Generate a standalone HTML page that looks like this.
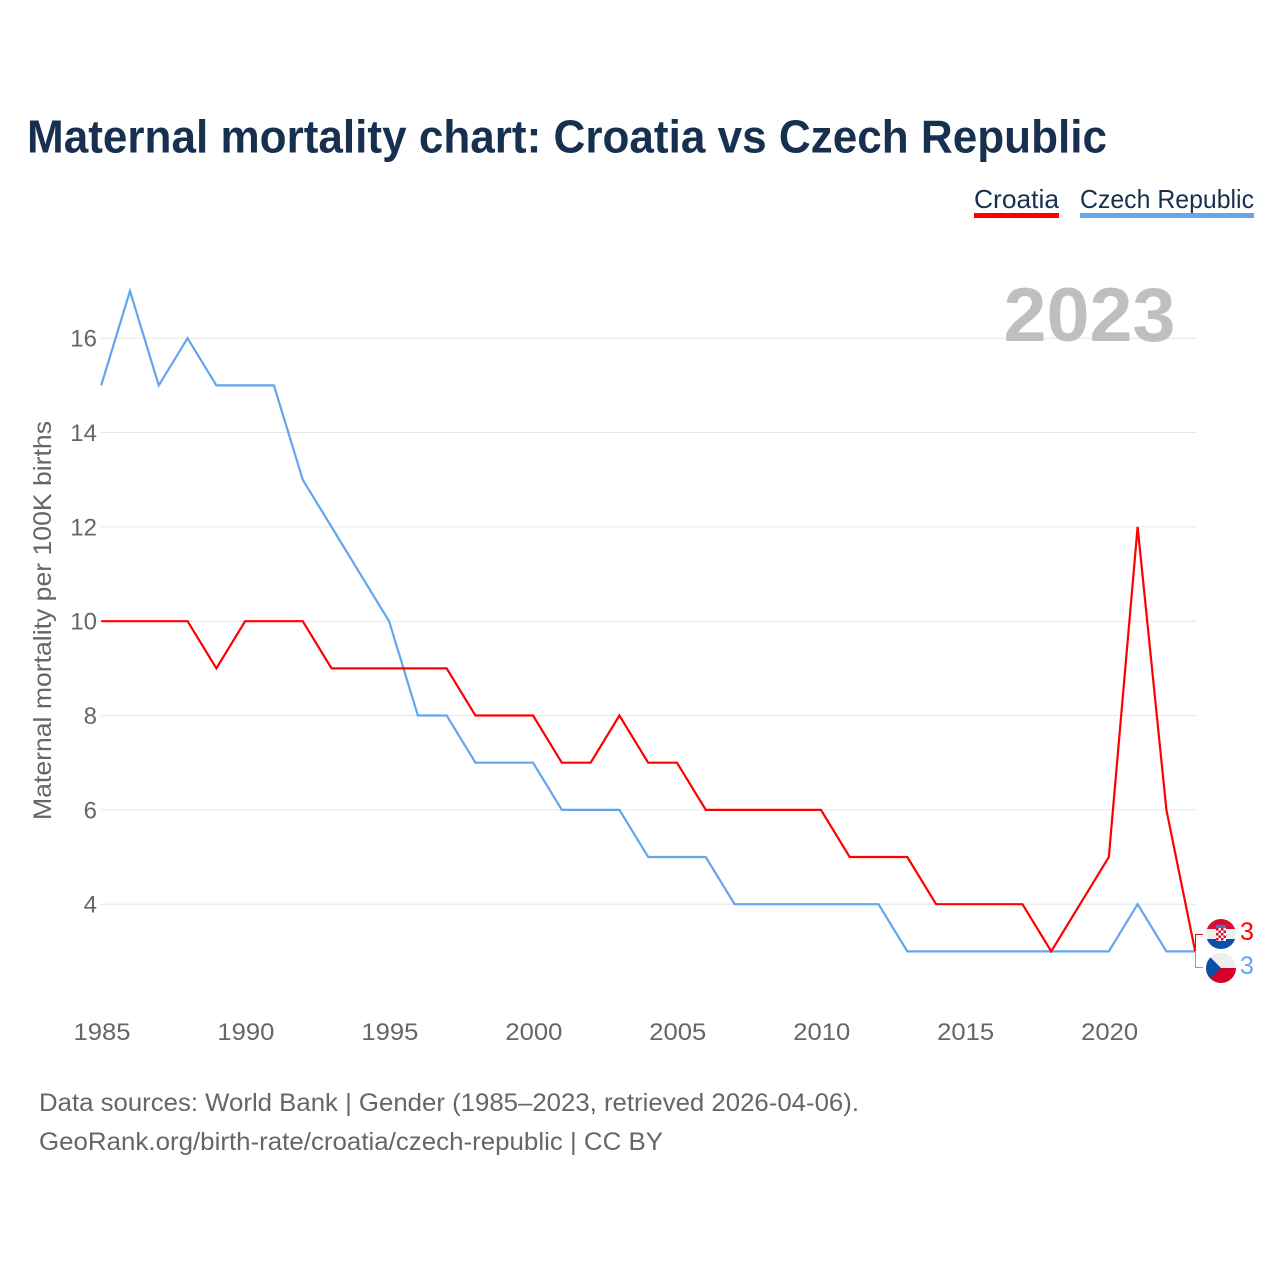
<!DOCTYPE html>
<html lang="en">
<head>
<meta charset="utf-8">
<title>Maternal mortality chart: Croatia vs Czech Republic</title>
<style>
html,body{margin:0;padding:0;background:#fff;}
svg{display:block;font-family:"Liberation Sans",sans-serif;}
</style>
</head>
<body>
<svg id="chart" width="1280" height="1280" viewBox="0 0 1280 1280" xmlns="http://www.w3.org/2000/svg">
  <defs>
    <clipPath id="clip-hr"><circle cx="1221" cy="934" r="15"/></clipPath>
    <clipPath id="clip-cz"><circle cx="1221" cy="968" r="15"/></clipPath>
  </defs>
  <rect x="0" y="0" width="1280" height="1280" fill="#ffffff"/>
  <text x="27" y="152.5" font-size="46" font-weight="700" fill="#18304f" textLength="1080" lengthAdjust="spacingAndGlyphs">Maternal mortality chart: Croatia vs Czech Republic</text>

  <g>
    <g>
      <text x="974" y="208" font-size="26" fill="#18304f" textLength="85" lengthAdjust="spacingAndGlyphs">Croatia</text>
      <rect x="974" y="213" width="85" height="5" fill="#ff0000"/>
    </g>
    <g>
      <text x="1080" y="208" font-size="26" fill="#18304f" textLength="174" lengthAdjust="spacingAndGlyphs">Czech Republic</text>
      <rect x="1080" y="213" width="174" height="5" fill="#63a6ec"/>
    </g>
  </g>

  <text transform="translate(51 820) rotate(-90)" font-size="25" fill="#666666" textLength="399" lengthAdjust="spacingAndGlyphs">Maternal mortality per 100K births</text>

  <g id="grid"></g>
  <g id="y-ticks"></g>
  <g id="x-ticks"></g>

  <text x="1003.5" y="341" font-size="76" font-weight="700" fill="#bfbfbf" textLength="172" lengthAdjust="spacingAndGlyphs">2023</text>

  <g id="series"></g>

  <path d="M1195.5 948V934.5H1203" fill="none" stroke="#ff0000" stroke-width="1"/>
  <path d="M1195.5 952V967.5H1203" fill="none" stroke="#63a6ec" stroke-width="1"/>

  <g clip-path="url(#clip-hr)">
    <rect x="1206" y="919" width="30" height="10" fill="#d8102f"/>
    <rect x="1206" y="929" width="30" height="10" fill="#eeeeee"/>
    <rect x="1206" y="939" width="30" height="10" fill="#0a4fa8"/>
    <rect x="1216" y="925" width="10" height="3" fill="#3f78d0"/>
    <rect x="1216" y="928" width="10" height="13" fill="#f4f4f4"/>
    <g fill="#d8102f">
      <rect x="1216" y="928" width="2.5" height="2.5"/><rect x="1221" y="928" width="2.5" height="2.5"/>
      <rect x="1218.5" y="930.5" width="2.5" height="2.5"/><rect x="1223.5" y="930.5" width="2.5" height="2.5"/>
      <rect x="1216" y="933" width="2.5" height="2.5"/><rect x="1221" y="933" width="2.5" height="2.5"/>
      <rect x="1218.5" y="935.5" width="2.5" height="2.5"/><rect x="1223.5" y="935.5" width="2.5" height="2.5"/>
      <rect x="1216" y="938" width="2.5" height="2.5"/><rect x="1221" y="938" width="2.5" height="2.5"/>
    </g>
  </g>
  <g clip-path="url(#clip-cz)">
    <rect x="1206" y="953" width="30" height="15" fill="#eeeeee"/>
    <rect x="1206" y="968" width="30" height="15" fill="#d80027"/>
    <polygon points="1206,953 1221,968 1206,983" fill="#0a4fa8"/>
  </g>

  <text x="1240" y="940" font-size="25" fill="#ff0000">3</text>
  <text x="1240" y="974" font-size="25" fill="#63a6ec">3</text>

  <text x="39" y="1111" font-size="25" fill="#666666" textLength="820" lengthAdjust="spacingAndGlyphs">Data sources: World Bank | Gender (1985–2023, retrieved 2026-04-06).</text>
  <text x="39" y="1150" font-size="25" fill="#666666" textLength="624" lengthAdjust="spacingAndGlyphs">GeoRank.org/birth-rate/croatia/czech-republic | CC BY</text>
</svg>
<script>
const years = [1985,1986,1987,1988,1989,1990,1991,1992,1993,1994,1995,1996,1997,1998,1999,2000,2001,2002,2003,2004,2005,2006,2007,2008,2009,2010,2011,2012,2013,2014,2015,2016,2017,2018,2019,2020,2021,2022,2023];
const croatiaValues = [10,10,10,10,9,10,10,10,9,9,9,9,9,8,8,8,7,7,8,7,7,6,6,6,6,6,5,5,5,4,4,4,4,3,4,5,12,6,3];
const czechValues = [15,17,15,16,15,15,15,13,12,11,10,8,8,7,7,7,6,6,6,5,5,5,4,4,4,4,4,4,3,3,3,3,3,3,3,3,4,3,3];
const yTickLabels = [4,6,8,10,12,14,16];
const xTickLabels = [1985,1990,1995,2000,2005,2010,2015,2020];

const NS = 'http://www.w3.org/2000/svg';
const xScale = function (year) { return 101.2 + (year - 1985) * (1195.2 - 101.2) / 38; };
const yScale = function (value) { return 904.2 - (value - 4) * (904.2 - 338.2) / 12; };

const gridGroup = document.getElementById('grid');
const yTickGroup = document.getElementById('y-ticks');
const xTickGroup = document.getElementById('x-ticks');
const seriesGroup = document.getElementById('series');

yTickLabels.forEach(function (tick) {
  const line = document.createElementNS(NS, 'line');
  
  
  line.setAttribute('x1', 101);
  line.setAttribute('x2', 1196);
  line.setAttribute('y1', yScale(tick));
  line.setAttribute('y2', yScale(tick));
  line.setAttribute('stroke', '#e6e6e6');
  line.setAttribute('stroke-width', '1');
  gridGroup.appendChild(line);

  const label = document.createElementNS(NS, 'text');
  
  
  label.setAttribute('x', 97);
  label.setAttribute('y', yScale(tick) + 8.5);
  label.setAttribute('text-anchor', 'end');
  label.setAttribute('font-size', '24');
  label.setAttribute('fill', '#666666');
  label.textContent = tick;
  yTickGroup.appendChild(label);
});

xTickLabels.forEach(function (tick) {
  const label = document.createElementNS(NS, 'text');
  
  
  label.setAttribute('x', xScale(tick) + 0.8);
  label.setAttribute('y', 1040);
  label.setAttribute('text-anchor', 'middle');
  label.setAttribute('font-size', '24');
  label.setAttribute('fill', '#666666');
  label.setAttribute('textLength', '57');
  label.setAttribute('lengthAdjust', 'spacingAndGlyphs');
  label.textContent = tick;
  xTickGroup.appendChild(label);
});

function linePoints(values) {
  return values.map(function (value, i) {
    return xScale(years[i]).toFixed(2) + ',' + yScale(value).toFixed(2);
  }).join(' ');
}

const czechLine = document.createElementNS(NS, 'polyline');


czechLine.setAttribute('points', linePoints(czechValues));
czechLine.setAttribute('fill', 'none');
czechLine.setAttribute('stroke', '#63a6ec');
czechLine.setAttribute('stroke-width', '2.2');
seriesGroup.appendChild(czechLine);

const croatiaLine = document.createElementNS(NS, 'polyline');


croatiaLine.setAttribute('points', linePoints(croatiaValues));
croatiaLine.setAttribute('fill', 'none');
croatiaLine.setAttribute('stroke', '#ff0000');
croatiaLine.setAttribute('stroke-width', '2.2');
seriesGroup.appendChild(croatiaLine);
</script>
</body>
</html>
